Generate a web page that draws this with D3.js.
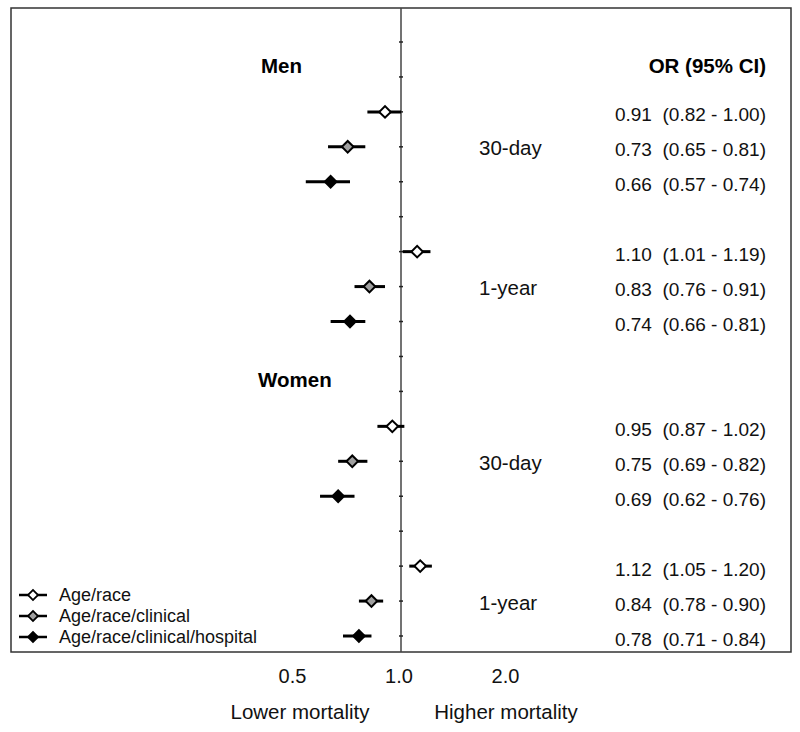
<!DOCTYPE html>
<html><head><meta charset="utf-8">
<script src="https://cdn.jsdelivr.net/npm/d3@7/dist/d3.min.js"></script>
<style>html,body{margin:0;padding:0;background:#fff;}svg{display:block;font-family:"Liberation Sans",Arial,sans-serif;}</style>
</head><body>
<script>
const groups = ["Men", "Women"];
const periods = ["30-day", "1-year"];
const models = ["Age/race", "Age/race/clinical", "Age/race/clinical/hospital"];
const modelFills = ["#ffffff", "#a0a0a0", "#000000"];
// values in order: group -> period -> model
const orVals = [0.91, 0.73, 0.66, 1.10, 0.83, 0.74, 0.95, 0.75, 0.69, 1.12, 0.84, 0.78];
const loVals = [0.82, 0.65, 0.57, 1.01, 0.76, 0.66, 0.87, 0.69, 0.62, 1.05, 0.78, 0.71];
const hiVals = [1.00, 0.81, 0.74, 1.19, 0.91, 0.81, 1.02, 0.82, 0.76, 1.20, 0.90, 0.84];
const tickVals = [0.5, 1, 2];
const tickLabels = ["0.5", "1.0", "2.0"];
const lowerLabel = "Lower mortality";
const higherLabel = "Higher mortality";
const ciHeader = "OR (95% CI)";

const W = 800, H = 732;
const svg = d3.select("body").append("svg").attr("width", W).attr("height", H);

const frame = {left: 11, right: 791, top: 8, bottom: 652};
const x = d3.scaleLog().domain([0.1, 10]).range([frame.left, frame.right]);

// Build row ids (with header / spacer slots)
const rowIds = [];
const rows = [];
let k = 0;
groups.forEach(g => {
  rowIds.push(g + "-h0", g + "-h1");
  periods.forEach((p, pi) => {
    if (pi > 0) rowIds.push(g + "-" + p + "-sp");
    models.forEach((m, mi) => {
      const id = g + "-" + p + "-" + mi;
      rowIds.push(id);
      rows.push({id, g, p, mi, or: orVals[k], lo: loVals[k], hi: hiVals[k]});
      k++;
    });
  });
});
const y = d3.scalePoint().domain(rowIds).range([42, 636]);

// frame
svg.append("rect").attr("x", frame.left).attr("y", frame.top)
  .attr("width", frame.right - frame.left).attr("height", frame.bottom - frame.top)
  .attr("fill", "none").attr("stroke", "#333").attr("stroke-width", 1.5);

// reference line at OR = 1
const x1 = x(1);
svg.append("line").attr("x1", x1).attr("x2", x1).attr("y1", frame.top).attr("y2", frame.bottom)
  .attr("stroke", "#444").attr("stroke-width", 1.5);
svg.append("g").selectAll("line").data(rowIds).join("line")
  .attr("x1", x1 - 2).attr("x2", x1 + 2)
  .attr("y1", d => y(d)).attr("y2", d => y(d))
  .attr("stroke", "#222").attr("stroke-width", 1.5);

// CI lines
const marks = svg.append("g");
marks.selectAll("line.ci").data(rows).join("line").attr("class", "ci")
  .attr("x1", d => x(d.lo)).attr("x2", d => x(d.hi))
  .attr("y1", d => y(d.id)).attr("y2", d => y(d.id))
  .attr("stroke", "#000").attr("stroke-width", 3);

const r = 5.8;
const diamond = d3.symbol(d3.symbolSquare, 2 * r * r);
marks.selectAll("path.pt").data(rows).join("path").attr("class", "pt")
  .attr("d", diamond)
  .attr("transform", d => `translate(${x(d.or)},${y(d.id)}) rotate(45)`)
  .attr("fill", d => modelFills[d.mi]).attr("stroke", "#000").attr("stroke-width", 2);

// group labels
groups.forEach(g => {
  svg.append("text").attr("x", g === "Men" ? 261 : 258)
    .attr("y", (y(g + "-h0") + y(g + "-h1")) / 2 + 6)
    .attr("dominant-baseline", "central")
    .attr("font-size", 20.5).attr("font-weight", "bold").text(g);
});
svg.append("text").attr("x", 766).attr("y", (y("Men-h0") + y("Men-h1")) / 2 + 6)
  .attr("dominant-baseline", "central").attr("text-anchor", "end")
  .attr("font-size", 20.5).attr("font-weight", "bold").text(ciHeader);

// period labels
groups.forEach(g => periods.forEach(p => {
  svg.append("text").attr("x", 479).attr("y", y(g + "-" + p + "-1") + 1)
    .attr("dominant-baseline", "central").attr("font-size", 20.5).attr("fill", "#111").text(p);
}));

// OR text
const f2 = d3.format(".2f");
svg.append("g").selectAll("text").data(rows).join("text")
  .attr("x", 766).attr("y", d => y(d.id) + 3)
  .attr("dominant-baseline", "central").attr("text-anchor", "end")
  .attr("font-size", 19).attr("fill", "#111")
  .attr("xml:space", "preserve")
  .text(d => `${f2(d.or)}  (${f2(d.lo)} - ${f2(d.hi)})`);

// x-axis tick labels
const tickScale = d3.scaleLog().domain([0.5, 2]).range([x1 - 109, x1 + 104]);
const ax = svg.append("g").attr("transform", `translate(0,${frame.bottom + 14})`)
  .call(d3.axisBottom(tickScale).tickValues(tickVals).tickSize(0)
    .tickFormat((d, i) => tickLabels[i]));
ax.select(".domain").remove();
ax.selectAll("text").attr("font-size", 20).attr("font-family", "Liberation Sans, Arial, sans-serif").attr("fill", "#111");

svg.append("text").attr("x", 300).attr("y", 711).attr("text-anchor", "middle")
  .attr("dominant-baseline", "central").attr("font-size", 20.5).attr("fill", "#111").text(lowerLabel);
svg.append("text").attr("x", 506).attr("y", 711).attr("text-anchor", "middle")
  .attr("dominant-baseline", "central").attr("font-size", 20.5).attr("fill", "#111").text(higherLabel);

// legend
const legY = d3.scalePoint().domain(models).range([595, 637]);
const leg = svg.append("g").selectAll("g").data(models).join("g")
  .attr("transform", d => `translate(0,${legY(d)})`);
leg.append("line").attr("x1", 19).attr("x2", 47).attr("stroke", "#000").attr("stroke-width", 2.5);
leg.append("path").attr("d", d3.symbol(d3.symbolSquare, 2 * 5 * 5))
  .attr("transform", "translate(33,0) rotate(45)")
  .attr("fill", (d, i) => modelFills[i]).attr("stroke", "#000").attr("stroke-width", 1.8);
leg.append("text").attr("x", 59).attr("dominant-baseline", "central")
  .attr("font-size", 18).attr("fill", "#111").text(d => d);
</script>
</body></html>
